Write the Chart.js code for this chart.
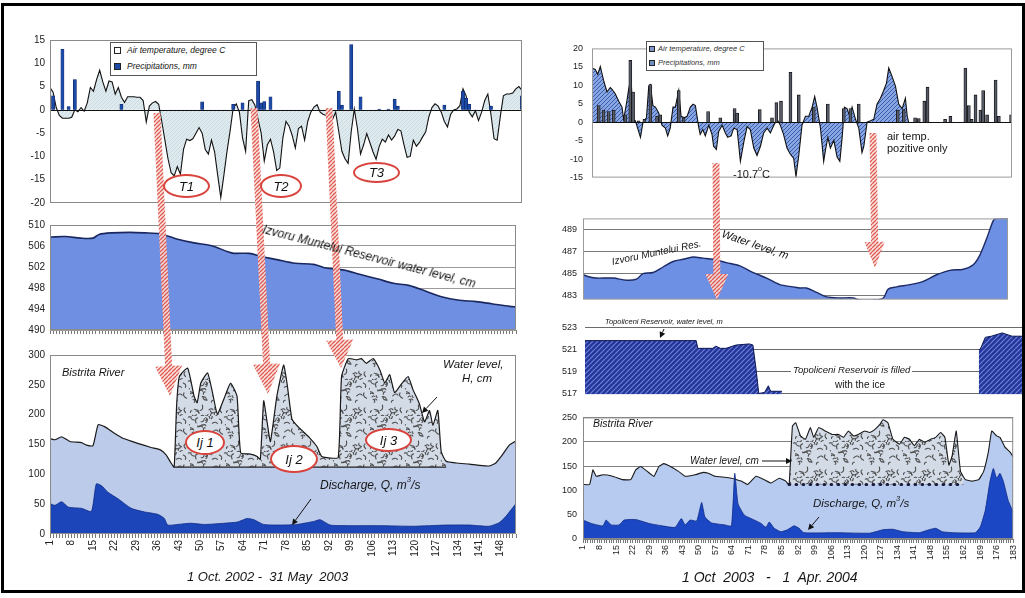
<!DOCTYPE html>
<html><head><meta charset="utf-8">
<script src="https://cdn.jsdelivr.net/npm/chart.js@4.4.1/dist/chart.umd.min.js"></script>
<style>
html,body{margin:0;padding:0;background:#fff;width:1025px;height:598px;overflow:hidden;position:relative;font-family:'Liberation Sans',Arial,sans-serif;}
.box{position:absolute;}
.t{position:absolute;white-space:nowrap;color:#151515;font-family:'Liberation Sans',Arial,sans-serif;line-height:1;z-index:6;}
.i{font-style:italic;}
.wb{background:#fff;padding:0 2px;}
sup{font-size:65%;vertical-align:top;position:relative;top:-3px;}
.ell{position:absolute;border:2px solid #d8433c;border-radius:50%;background:#fff;display:flex;align-items:center;justify-content:center;font-style:italic;font-size:13px;color:#111;box-sizing:border-box;z-index:6;font-family:'Liberation Sans',Arial,sans-serif;}
.leg{position:absolute;background:#fff;border:1px solid #555;z-index:6;box-sizing:border-box;}
.mk{position:absolute;border:1px solid #222;box-sizing:border-box;}
#overlay{position:absolute;left:0;top:0;z-index:5;pointer-events:none;}
#frame{position:absolute;left:1px;top:3px;width:1018px;height:584px;border:3px solid #000;z-index:8;pointer-events:none;}
</style></head><body>

<div class="box" id="bL1" style="left:10px;top:29px;width:520px;height:185px"><canvas id="cL1"></canvas></div>
<div class="box" id="bL2" style="left:10px;top:214px;width:520px;height:128px"><canvas id="cL2"></canvas></div>
<div class="box" id="bL3" style="left:10px;top:344px;width:520px;height:226px"><canvas id="cL3"></canvas></div>
<div class="box" id="bR1" style="left:552px;top:34px;width:468px;height:158px"><canvas id="cR1"></canvas></div>
<div class="box" id="bR2" style="left:543px;top:207px;width:473px;height:104px"><canvas id="cR2"></canvas></div>
<div class="box" id="bR3" style="left:545px;top:314px;width:488px;height:94px"><canvas id="cR3"></canvas></div>
<div class="box" id="bR4" style="left:543px;top:406px;width:483px;height:165px"><canvas id="cR4"></canvas></div>

<canvas id="overlay" width="1025" height="598"></canvas>

<!-- left texts -->
<div class="leg" style="left:110px;top:42px;width:147px;height:34px">
  <div class="mk" style="left:3px;top:4px;width:7px;height:7px;background:#fff"></div>
  <div class="t i" style="left:16px;top:3px;font-size:8.5px">Air temperature, degree C</div>
  <div class="mk" style="left:3px;top:20px;width:7px;height:7px;background:#1d4aa6"></div>
  <div class="t i" style="left:16px;top:19px;font-size:8.5px">Precipitations, mm</div>
</div>
<div class="ell" style="left:163px;top:174px;width:47px;height:24px">T1</div>
<div class="ell" style="left:260px;top:174px;width:42px;height:24px">T2</div>
<div class="ell" style="left:353px;top:162px;width:47px;height:21px">T3</div>
<div class="t i" style="left:263px;top:223px;font-size:12px;transform:rotate(14.5deg);transform-origin:0 50%">Izvoru Muntelui Reservoir water level, cm</div>
<div class="t i" style="left:62px;top:367px;font-size:11px">Bistrita River</div>
<div class="t i" style="left:443px;top:359px;font-size:11.5px">Water level,</div>
<div class="t i" style="left:462px;top:373px;font-size:11.5px">H, cm</div>
<div class="t i" style="left:320px;top:479px;font-size:12px">Discharge, Q, m<sup>3</sup>/s</div>
<div class="ell" style="left:185px;top:430px;width:40px;height:25px">Ij 1</div>
<div class="ell" style="left:270px;top:445px;width:48px;height:28px">Ij 2</div>
<div class="ell" style="left:365px;top:428px;width:47px;height:24px">Ij 3</div>
<div class="t i" style="left:187px;top:570px;font-size:13px">1 Oct. 2002 -&nbsp; 31 May&nbsp; 2003</div>

<!-- right texts -->
<div class="leg" style="left:646px;top:41px;width:118px;height:30px">
  <div class="mk" style="left:2px;top:4px;width:6px;height:6px;background:#7f97c9"></div>
  <div class="t i" style="left:11px;top:3px;font-size:7.5px;color:#333">Air temperature, degree C</div>
  <div class="mk" style="left:2px;top:18px;width:6px;height:6px;background:#6f8fbf"></div>
  <div class="t i" style="left:11px;top:17px;font-size:7.5px;color:#333">Precipitations, mm</div>
</div>
<div class="t" style="left:733px;top:169px;font-size:11px">-10.7<sup>o</sup>C</div>
<div class="t" style="left:887px;top:131px;font-size:11px">air temp.</div>
<div class="t" style="left:887px;top:143px;font-size:11px">pozitive only</div>
<div class="t i" style="left:612px;top:257px;font-size:10px;transform:rotate(-11.8deg);transform-origin:0 50%">Izvoru Muntelui Res.</div>
<div class="t i" style="left:722px;top:228px;font-size:11px;transform:rotate(18.7deg);transform-origin:0 50%">Water level, m</div>
<div class="t i wb" style="left:603px;top:318px;font-size:7.5px">Topoliceni Reservoir, water level, m</div>
<div class="t i wb" style="left:791px;top:365px;font-size:9.5px">Topoliceni Reservoir is filled</div>
<div class="t" style="left:835px;top:380px;font-size:10px">with the ice</div>
<div class="t i" style="left:593px;top:418px;font-size:10.5px">Bistrita River</div>
<div class="t i" style="left:690px;top:456px;font-size:10px">Water level, cm</div>
<div class="t i" style="left:813px;top:498px;font-size:11.5px">Discharge, Q, m<sup>3</sup>/s</div>
<div class="t i" style="left:682px;top:570px;font-size:14px">1 Oct&nbsp; 2003 &nbsp; - &nbsp; 1&nbsp; Apr. 2004</div>

<div id="frame"></div>

<script>
// ---------------- DATA ----------------
const leftDays = Array.from({length:153},(_,i)=>i+1);
const leftTempC = [
 4.8,3.8,0.5,-1.2,-1.8,-1.8,-1.8,-1.6,0,-0.4,
 0.5,-0.3,1.5,4.8,4.0,6.5,8.5,6.0,4.0,6.2,
 6.0,3.4,4.8,2.7,1.6,2.8,2.8,2.8,2.7,2.7,
 2.0,-2.6,0.8,1.5,1.8,1.2,-2.5,-6.5,-10.5,-13.5,
 -14.2,-12.2,-13.8,-8.5,-6.3,-6.6,-6.2,-5.0,-3.8,-5.0,
 -8.5,-9.5,-6.5,-9.0,-14.0,-18.8,-14.0,-8.9,-4.5,0.4,
 1.3,-0.5,-6.0,-8.9,2.0,2.2,1.0,-2.0,-5.0,-11.0,
 -7.5,-6.3,-9.0,-13.0,-12.5,-6.0,-2.5,-3.5,-5.5,-8.2,
 -4.0,-3.5,-6.5,-2.5,-0.5,0.6,1.1,-0.5,-1.0,-1.2,
 0.0,-2.0,-0.5,-4.7,-8.9,-10.5,-11.5,-4.7,0.2,-4.0,
 -9.5,-7.5,-5.1,-7.0,-9.0,-10.6,-7.9,-6.3,-6.9,-5.4,
 -6.5,-5.6,-4.2,-4.5,-7.5,-10.2,-10.0,-6.5,-7.8,-7.0,
 -5.8,-4.7,-1.5,0.5,1.3,0.8,-0.5,-2.5,-3.7,-1.0,
 0.0,0.2,0.9,4.5,3.0,-0.5,-1.5,-0.2,-2.3,-0.5,
 2.0,3.4,-1.0,-6.2,-6.5,-1.5,3.0,3.4,3.4,3.6,
 4.5,5.0,4.2];
const leftPrecipDays = [2,5,7,9,24,50,60,63,68,69,70,72,94,95,98,101,107,110,112,113,128,134,135,136,143,153];
const leftPrecipMm   = [3,13,0.7,6.5,1.2,1.7,1.2,1.5,6.2,1.5,1.8,2.8,4,1,14,2.8,0.15,0.15,2.3,0.8,1,4,2.5,1.2,0.8,3];

const leftResDays  = [1,6,11,15,17,21,27,32,37,42,48,54,59,61,66,70,75,81,87,91,97,102,108,113,118,124,129,134,140,145,151,153];
const leftResLevel = [507.7,507.8,507.5,507.5,508.2,508.5,508.6,508.5,508.3,507.4,506.6,506.0,504.9,504.6,504.6,504.0,503.4,502.7,502.5,501.8,501.4,500.6,499.7,498.9,498.5,497.3,496.3,495.7,495.4,495.0,494.5,494.4];

const leftHDays = [1,2.6,4.8,7.5,11.3,12.9,15,16.7,18.8,22,25,29.6,34,37,38.8,40.5,41.5,42.3,43.2,45.9,48,49,50.2,52.4,54,55.6,57.7,59.9,62,63.2,66.4,68.6,69.6,70.7,71.8,72.9,75,77.2,78.3,79.9,81.5,83.7,85.9,88,89.6,91.3,95,96.1,98.3,101,102.6,104.2,106.4,108.6,110.2,111.8,113.4,115.6,117.8,119.4,121.5,123.2,124.8,125.9,127.5,128.6,130.2,133.5,137.8,141,144.2,146.4,148.6,150.8,153];
const leftHcm   = [160,158,163,155,153,149,148,183,180,169,160,152,145,141,133,119,112,215,264,278,231,220,253,270,237,201,226,253,231,136,134,130,125,223,188,155,231,283,253,193,182,171,160,147,130,128,128,264,294,292,294,286,294,275,253,267,237,251,264,242,218,188,207,182,207,138,122,119,117,115,114,119,133,149,156];
const leftIceDays = [41.5,130.2];
const leftIceBase = [112,112];
const leftQDays = [1,2.6,4.8,7,11.3,14.5,16.1,17.8,19.9,23.2,27.5,31.8,36.1,38.3,39.4,42.6,47,51.3,57.8,62.1,65.3,67.5,70.7,76.1,81.5,87,89.1,92.4,97.8,108.6,119.4,130.2,137.8,144.2,147.5,149.6,153];
const leftQm3s  = [51,48,54,45,43,38,84,81,70,59,43,37,33,26,15,16,18,16,18,20,26,24,16,15,16,21,24,15,14,14,13,15,15,13,19,29,51];

const rightTempDays = [1,2.4,3.5,4.6,6,7.5,8.9,9.6,11,12.6,14,14.7,15.9,16.9,17.9,18.8,19.8,21.2,22,23.1,24.6,25.6,26.3,27.4,28.5,29.9,31.3,32.8,33.8,34.9,36.1,37.1,38.6,39.6,41,42.2,43.6,44.8,45.8,47.2,47.9,49,50.1,51.6,53,53.7,54.9,55.9,57.4,58.8,59.8,61.3,62.4,63.9,65.3,66.8,68.2,69.6,71.1,72.5,74,75.4,76.9,78.3,79.8,81.2,82.6,84,85.5,86.9,88.4,89.4,90.6,92,93.5,94.9,96.4,97.5,98.5,100,101.4,102.2,103.2,104.3,105.8,107.2,108.4,109.4,110.4,111.5,112.7,113.7,115.2,116.6,118,118.8,120.2,121.7,123.1,124.5,126,127.4,128.6,129.6,131.1,132.5,133.9,135.4,136.8,137.6,138.2];
const rightTempC = [14.7,14.3,13,15.1,11.4,8.2,9.4,9,7.8,5.7,4.1,0.8,4.9,9,12.3,0.8,0.4,-2.5,-4.1,0,1.2,9.8,10.2,4.5,4.1,2.5,-0.8,-1.6,-3.7,-1.6,4.1,4.1,8.6,1.6,1.2,1.6,4.1,4.9,4.5,-1.2,-3.3,-2,-3.7,-0.8,-3.3,-6.5,-7.4,-2.5,-0.8,-2.9,-4.1,-3.7,-1.6,-2,-10.6,-5.3,-1.2,-2,-7,-9,-6.5,-2.9,-1.6,-2.9,-0.8,0.8,-0.8,-3.3,-7,-8.6,-9.8,-14.7,-9,-0.8,1.6,1.6,4.1,7,4.1,-1.6,-10.6,-7.4,-4.1,-7,-4.9,-9.4,-10.6,-4.1,4.1,3.7,1.6,4.1,0.8,-1.6,-8.2,-6.5,0,0.4,0.8,4.9,6.5,8.6,10.6,14.7,12.3,9.8,4.9,3.7,6.5,1.6,0];
const rightPrecipDays = [3.9,6,8.2,10.4,15.5,17.6,18.8,21.2,23.7,26.3,29.2,30.6,38.6,40.7,51.3,56.6,62.8,63.9,73.7,79,80.9,82.9,87,90.6,97.1,103.2,110.1,113,116.6,133.5,136.1,141,142.6,145,146.4,154,156.3,162.8,164.3,165.5,167.2,169.3,170.5,172.2,175.9,177.3,182.6];
const rightPrecipMm   = [4.5,3.3,2.9,3.3,2,16.8,8.2,0.4,0.8,10.2,1.6,2.0,8.6,1.2,2.9,1.2,3.7,2.5,3.4,1.2,5.3,5.7,13.5,7.4,4.1,4.9,3.7,3.7,4.9,3.3,3.4,1.2,1.0,5.7,9.5,0.8,1.6,14.7,4.5,0.8,7.4,3.3,8.6,2.0,11.4,1.6,2.0];

const izvoruDays  = [1,3.9,6.7,13.9,19.6,23.9,26.7,31,35.3,39.6,43.9,48.1,52.4,56.7,62.4,68.1,73.9,79.6,85.3,91,93.9,96.7,101,105.3,111,116.7,119.6,125.3,129.6,131.7,135.3,141,146.7,152.4,158.1,163.9,168.1,171,173.9,176.7,178,183];
const izvoruLevel = [484.9,484.7,484.6,484.6,484.4,484.5,485.0,485.1,485.6,486.1,486.3,486.5,486.4,486.3,486.0,485.7,485.1,484.6,484.0,483.8,483.7,483.7,483.3,482.9,482.8,482.8,482.6,482.6,482.8,483.6,483.8,484.0,484.3,484.9,485.3,485.4,485.8,486.7,488.2,489.8,490.0,490.0];

const topoDays  = [1,48.6,49.3,55.7,57,59,61.4,65.7,71.4,72.9,74.3,75.4,77.9,79.5,80.5,85.3,120,169.6,170.2,172.4,175,179.6,183.9,189.4];
const topoLevel = [521.8,521.8,521.1,521.1,521.3,521.1,521.1,521.4,521.5,521.4,519.1,517.0,517.1,517.7,517.2,517.2,null,521.0,521.0,522.1,522.2,522.5,522.2,522.2];

const rightHDays = [1,3.8,5.2,6.6,9.4,13.6,17.7,21.2,23.3,25.4,28.2,31,33.1,35.2,38,41.4,44.2,48.4,51.9,54,56.8,61,63.8,65.4,67.9,70.7,74.2,77.7,80.5,84,86.8,88.2,89.6,91,93,95.1,97.2,98.6,100.7,103.5,106.3,109.1,111.2,113.3,115.4,117.5,120.2,122.3,124.4,126.5,127.9,130,132.1,134.9,137,139.1,141.2,143.3,145.4,148.1,150.2,152.3,154.1,155.8,157.2,158.9,160.7,162.8,165.6,168.4,170.5,172.5,173.9,176,177.4,179.5,181.6,183];
const rightHcm   = [112,112,142,129,132,129,122,122,142,149,139,129,149,155,149,139,129,132,137,135,129,127,125,123,119,112,129,122,115,125,119,111,232,239,212,205,229,209,229,222,215,215,209,222,212,215,222,219,225,235,245,239,205,195,209,205,192,205,199,205,209,219,209,152,172,222,139,122,119,122,139,179,222,212,209,189,179,169];
const rightIceDays = [88.2,162.1];
const rightIceBase = [112,112];
const rightQDays = [1,4.5,9.4,10.8,12.9,16.3,18.4,23.3,28.9,34.5,40,42.6,44.2,46.3,49.1,51.2,52.6,55.4,61,63.8,65.2,66.6,69.3,73.5,76.3,78.4,79.8,81.9,84.7,87.5,90.3,92.4,94.4,108.4,122.3,127.9,132.1,136.3,143.3,147.4,150.2,153,157.2,167,169.1,171.2,173.2,174.6,176,177.4,178.8,180.9,183];
const rightQm3s  = [39,32,27,39,29,29,39,40,32,27,24,42,29,39,37,75,45,33,29,27,135,72,49,39,32,24,35,22,15,19,27,22,13,13,12,19,20,15,13,19,22,15,13,13,25,59,119,145,125,135,119,79,55];

// tick labels
const leftTickDays  = [1,8,15,22,29,36,43,50,57,64,71,78,85,92,99,106,113,120,127,134,141,148];
const rightTickDays = [1,8,15,22,29,36,43,50,57,64,71,78,85,92,99,106,113,120,127,134,141,148,155,162,169,176,183];
const rightAllDays  = Array.from({length:183},(_,i)=>i+1);
const leftTempTicks  = [-20,-15,-10,-5,0,5,10,15];
const leftResTicks   = [490,494,498,502,506,510];
const leftRiverTicks = [0,50,100,150,200,250,300];
const rightTempTicks = [-15,-10,-5,0,5,10,15,20];
const izvoruTicks    = [483,485,487,489];
const topoTicks      = [517,519,521,523];
const rightRiverTicks= [0,50,100,150,200,250];

// ---------------- STYLE HELPERS ----------------
const FONT = "'Liberation Sans', Arial, sans-serif";
Chart.defaults.font.family = FONT;
const pairs = (xs, ys) => xs.map((x,i)=>({x:x, y:ys[i]}));

function makePattern(w,h,draw){
  const c=document.createElement('canvas'); c.width=w; c.height=h;
  const g=c.getContext('2d'); draw(g,w,h); return g.createPattern(c,'repeat');
}
function hatch(bg, fg, s, lw){
  return makePattern(s,s,(g)=>{ g.fillStyle=bg; g.fillRect(0,0,s,s); g.strokeStyle=fg; g.lineWidth=lw;
    g.beginPath(); for(const o of [-s,0,s]){ g.moveTo(o,s); g.lineTo(o+s,0);} g.stroke(); });
}
const paleFill  = hatch('#dfeaef','#c3d5dd',4,0.8);
const blueHatch = hatch('#87a6e2','#3b5cae',4,1);
const navyHatch = hatch('#24369c','#6f82d4',5,1.2);
const redHatch  = hatch('rgba(249,222,218,0.92)','#df5a52',4,1.3);
const iceFill = makePattern(36,36,(g,w,h)=>{
  g.fillStyle='#d3dbe7'; g.fillRect(0,0,w,h);
  let s=7; const r=()=>{ s=(Math.imul(s,1664525)+1013904223)>>>0; return s/4294967296; };
  g.strokeStyle='#4d4d4d'; g.lineWidth=1.1; g.lineCap='round';
  for(let k=0;k<40;k++){
    const x=r()*w, y=r()*h, a=r()*Math.PI*2, l=2+r()*4;
    g.beginPath(); g.moveTo(x,y);
    g.quadraticCurveTo(x+Math.cos(a+1)*l*0.6, y+Math.sin(a+1)*l*0.6, x+Math.cos(a)*l, y+Math.sin(a)*l);
    g.stroke();
  }
});

const extras = {
  id:'extras',
  afterDatasetsDraw(chart, args, o){
    const {ctx, chartArea:a, scales} = chart;
    ctx.save();
    if (o.zero){ const y=Math.round(scales.y.getPixelForValue(0))+0.5; ctx.strokeStyle='#111'; ctx.lineWidth=1.2;
      ctx.beginPath(); ctx.moveTo(a.left,y); ctx.lineTo(a.right,y); ctx.stroke(); }
    if (o.box){ ctx.strokeStyle=o.box; ctx.lineWidth=1; ctx.strokeRect(a.left+0.5,a.top+0.5,a.width-1,a.height-1); }
    ctx.restore();
  }
};
Chart.register(extras);

function mkOptions(c){
  return {
    responsive:true, maintainAspectRatio:false, animation:false, events:[], devicePixelRatio:1,
    layout:{padding:{top:8,right:8,bottom:8,left:0}},
    plugins:{legend:{display:false}, tooltip:{enabled:false}, extras:c.extras||{},
      filler:{drawTime:'beforeDatasetsDraw', propagate:false}},
    scales:{
      x:{type:'linear', min:c.xmin, max:c.xmax, offset:false, display:!!c.xDisplay,
        afterBuildTicks:(ax)=>{ ax.ticks=(c.xTicks||[]).map(v=>({value:v})); },
        afterFit:(s)=>{ s.height=c.xH||0; },
        grid:{drawOnChartArea:false, drawTicks:true, tickLength:4, color:'#555', lineWidth:0.8},
        border:{display:false},
        ticks:{autoSkip:false, maxRotation:90, minRotation:90, padding:2, color:'#222',
          font:{size:c.xFont||10, family:FONT},
          callback:(v)=> (c.xLabels && c.xLabels.includes(v)) ? String(v) : ''}
      },
      y:{min:c.ymin, max:c.ymax,
        afterBuildTicks:(ax)=>{ ax.ticks=c.yTicks.map(v=>({value:v})); },
        afterFit:(s)=>{ s.width=c.W; },
        grid:{display:!!c.yGrid, color:c.yGrid||'transparent', drawTicks:false, lineWidth:1},
        border:{display:false},
        ticks:{padding:c.yPad, color:'#222', font:{size:c.yFont||10, family:FONT}}
      }
    }
  };
}

// ---------------- LEFT CHARTS ----------------
new Chart(document.getElementById('cL1'), {
  type:'line',
  data:{datasets:[
    {type:'bar', data:pairs(leftPrecipDays,leftPrecipMm), backgroundColor:'#1d4aa6', borderColor:'#0c2567', borderWidth:0.6, barThickness:3.2, grouped:false, order:0},
    {type:'line', data:pairs(leftDays,leftTempC), borderColor:'#111', borderWidth:1.1, pointRadius:0, tension:0, fill:'origin', backgroundColor:paleFill, order:1}
  ]},
  options:mkOptions({xmin:1,xmax:153,xDisplay:false,ymin:-20,ymax:15,yTicks:leftTempTicks,W:40,yPad:5,extras:{box:'#8a8a8a',zero:true}})
});

new Chart(document.getElementById('cL2'), {
  type:'line',
  data:{datasets:[
    {data:pairs(leftResDays,leftResLevel), borderColor:'#1b2860', borderWidth:1.6, pointRadius:0, tension:0.3, fill:'start', backgroundColor:'#6f90e2'}
  ]},
  options:mkOptions({xmin:1,xmax:153,xDisplay:true,xTicks:leftDays,xLabels:[],xH:4,ymin:490,ymax:510,yTicks:leftResTicks,W:40,yPad:5,yGrid:'#9a9a9a',extras:{box:'#8a8a8a'}})
});

new Chart(document.getElementById('cL3'), {
  type:'line',
  data:{datasets:[
    {data:pairs(leftQDays,leftQm3s), borderColor:'#0e2a86', borderWidth:0.8, pointRadius:0, tension:0.2, fill:'origin', backgroundColor:'#1b45b8', order:0},
    {data:pairs(leftIceDays,leftIceBase), borderColor:'#222', borderWidth:1.2, pointRadius:0, fill:'+1', backgroundColor:iceFill, order:1},
    {data:pairs(leftHDays,leftHcm), borderColor:'#1a1a1a', borderWidth:1.2, pointRadius:0, tension:0.15, fill:'origin', backgroundColor:'#bccbea', order:2}
  ]},
  options:mkOptions({xmin:1,xmax:153,xDisplay:true,xTicks:leftDays,xLabels:leftTickDays,xH:28,ymin:0,ymax:300,yTicks:leftRiverTicks,W:40,yPad:5,extras:{box:'#8a8a8a'}})
});

// ---------------- RIGHT CHARTS ----------------
new Chart(document.getElementById('cR1'), {
  type:'line',
  data:{datasets:[
    {type:'bar', data:pairs(rightPrecipDays,rightPrecipMm), backgroundColor:'#555a66', borderColor:'#111', borderWidth:0.8, barThickness:3, grouped:false, order:0},
    {type:'line', data:pairs(rightTempDays,rightTempC), borderColor:'#111', borderWidth:1.1, pointRadius:0, tension:0, fill:'origin', backgroundColor:blueHatch, order:1}
  ]},
  options:mkOptions({xmin:1,xmax:183,xDisplay:false,ymin:-15,ymax:20,yTicks:rightTempTicks,W:40,yPad:9,yFont:9,extras:{box:'#9a9a9a',zero:true}})
});

new Chart(document.getElementById('cR2'), {
  type:'line',
  data:{datasets:[
    {data:pairs(izvoruDays,izvoruLevel), borderColor:'#1d2b66', borderWidth:1.4, pointRadius:0, tension:0.3, fill:'start', backgroundColor:'#6d8fe4'}
  ]},
  options:mkOptions({xmin:1,xmax:183,xDisplay:false,ymin:482.65,ymax:490,yTicks:izvoruTicks,W:40,yPad:6,yFont:9,yGrid:'#7a7a7a',extras:{box:'#9a9a9a'}})
});

new Chart(document.getElementById('cR3'), {
  type:'line',
  data:{datasets:[
    {data:pairs(topoDays,topoLevel), borderColor:'#0c1752', borderWidth:1, pointRadius:0, tension:0, spanGaps:false, fill:'start', backgroundColor:navyHatch}
  ]},
  options:mkOptions({xmin:1,xmax:189.4,xDisplay:false,ymin:516.9,ymax:523,yTicks:topoTicks,W:40,yPad:8,yFont:9,yGrid:'#6a6a6a',extras:{}})
});

new Chart(document.getElementById('cR4'), {
  type:'line',
  data:{datasets:[
    {data:pairs(rightQDays,rightQm3s), borderColor:'#0e2a86', borderWidth:0.8, pointRadius:0, tension:0.15, fill:'origin', backgroundColor:'#1c47c4', order:0},
    {data:pairs(rightIceDays,rightIceBase), borderColor:'#1a1a3a', borderWidth:3.2, borderDash:[0.5,6.5], borderCapStyle:'round', pointRadius:0, fill:'+1', backgroundColor:iceFill, order:1},
    {data:pairs(rightHDays,rightHcm), borderColor:'#1a1a1a', borderWidth:1.1, pointRadius:0, tension:0.1, fill:'origin', backgroundColor:'#b7cbf0', order:2}
  ]},
  options:mkOptions({xmin:1,xmax:183,xDisplay:true,xTicks:rightAllDays,xLabels:rightTickDays,xH:24,xFont:9,ymin:0,ymax:250,yTicks:rightRiverTicks,W:40,yPad:6,yFont:9,yGrid:'#808080',extras:{box:'#8a8a8a'}})
});

// ---------------- OVERLAY ARROWS ----------------
(function(){
  const ctx=document.getElementById('overlay').getContext('2d');
  function fat(x1,y1,x2,y2,sw,hw,hl){
    const dx=x2-x1, dy=y2-y1, L=Math.hypot(dx,dy), ux=dx/L, uy=dy/L, nx=-uy, ny=ux;
    const bx=x2-ux*hl, by=y2-uy*hl;
    ctx.beginPath();
    ctx.moveTo(x1+nx*sw/2, y1+ny*sw/2);
    ctx.lineTo(bx+nx*sw/2, by+ny*sw/2);
    ctx.lineTo(bx+nx*hw/2, by+ny*hw/2);
    ctx.lineTo(x2,y2);
    ctx.lineTo(bx-nx*hw/2, by-ny*hw/2);
    ctx.lineTo(bx-nx*sw/2, by-ny*sw/2);
    ctx.lineTo(x1-nx*sw/2, y1-ny*sw/2);
    ctx.closePath();
    ctx.fillStyle=redHatch; ctx.fill();
  }
  fat(157,113,170,396,7,27,30);
  fat(254,108,268,394,7,27,30);
  fat(329,108,341,368,7,27,28);
  fat(716,163,717,300,7,23,26);
  fat(873,133,875,268,7,20,26);

  function thin(x1,y1,x2,y2){
    const dx=x2-x1, dy=y2-y1, L=Math.hypot(dx,dy), ux=dx/L, uy=dy/L, nx=-uy, ny=ux, h=6, w=3;
    ctx.strokeStyle='#111'; ctx.lineWidth=1; ctx.beginPath(); ctx.moveTo(x1,y1); ctx.lineTo(x2-ux*h,y2-uy*h); ctx.stroke();
    ctx.fillStyle='#111'; ctx.beginPath(); ctx.moveTo(x2,y2);
    ctx.lineTo(x2-ux*h+nx*w, y2-uy*h+ny*w); ctx.lineTo(x2-ux*h-nx*w, y2-uy*h-ny*w); ctx.closePath(); ctx.fill();
  }
  thin(437,397,422,413);
  thin(311,499,292,525);
  thin(664,329,660,338);
  thin(762,461,792,461);
  thin(819,517,808,530);
})();
</script>
</body></html>
